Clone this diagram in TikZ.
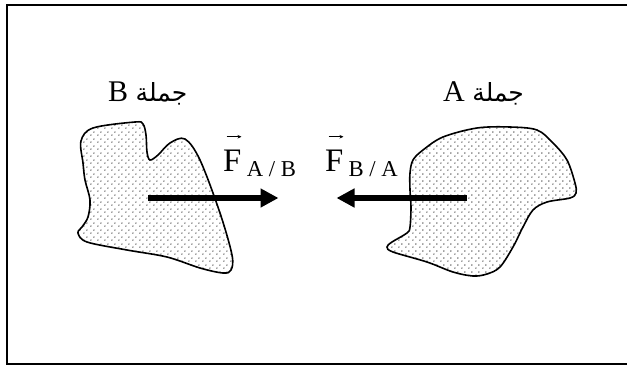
\documentclass[tikz,border=0pt]{standalone}
\usepackage{fontspec}
\setmainfont{Liberation Serif}
\newfontfamily\arabicfont[Script=Arabic]{DejaVu Sans}
\TeXXeTstate=1
\usetikzlibrary{arrows.meta,patterns}
\pgfdeclarepatternformonly{stagdots}{\pgfpoint{-1pt}{-1pt}}{\pgfpoint{6pt}{6pt}}{\pgfpoint{7pt}{7pt}}{%
  \pgfpathcircle{\pgfpoint{0pt}{0pt}}{0.85pt}%
  \pgfpathcircle{\pgfpoint{3.5pt}{3.5pt}}{0.85pt}%
  \pgfusepath{fill}}
\tikzset{
  frame/.style={line width=2pt},
  blob/.style={line width=1.6pt, pattern=stagdots, pattern color=black!75},
  force/.style={line width=6pt, -{Triangle[length=18pt,width=18pt]}},
  vecarr/.style={line width=0.7pt, -{Stealth[length=4pt,width=3.5pt]}},
  ftxt/.style={inner sep=0pt, font=\fontsize{32.8}{34}\selectfont},
  subtxt/.style={inner sep=0pt, font=\fontsize{22.7}{24}\selectfont},
  lbl/.style={inner sep=0pt, font=\fontsize{30}{32}\selectfont},
}
\begin{document}
\begin{tikzpicture}[x=1pt,y=-1pt]
\useasboundingbox (0,0) rectangle (627,365);
\fill[white] (0,0) rectangle (627,365);
% frame (open at right)
\draw[frame] (627,4.5) -- (6.5,4.5) -- (6.5,363.5) -- (627,363.5);
% body B
\draw[blob] plot[smooth cycle, tension=0.55] coordinates {
 (81,141) (93,128) (135,122) (143,124) (146,135) (147,152) (150,160) (158,155) (170,143) (185,139)
 (200,160) (220,213) (232,255) (231,270) (223,273) (200,268) (167,257) (127,250)
 (87,242) (78,233) (82,227) (88,217) (90,200) (85,180) (83,163)};
% body A
\draw[blob] plot[smooth cycle, tension=0.55] coordinates {
 (410,173) (413,160) (423,150) (443,137) (477,128) (510,127) (537,130) (553,143)
 (567,160) (575,183) (576,193) (570,198) (547,202) (533,210) (523,227) (513,247)
 (500,267) (487,274) (473,276) (453,272) (427,262) (393,252) (387,247) (392,242)
 (407,233) (410,227) (411,207) (410,190)};
% forces
\coordinate (fb0) at (148,198);
\coordinate (fb1) at (278.5,198);
\coordinate (fa0) at (467,198);
\coordinate (fa1) at (336.5,198);
\draw[force] (fb0) -- (fb1);
\draw[force] (fa0) -- (fa1);
% force labels
\node[ftxt, anchor=base west] (FAB) at (223,171.7) {F};
\node[subtxt, anchor=base west] (SAB) at (246.7,176.7) {A / B};
\draw[vecarr] ([shift={(3.5,-13.3)}]FAB.north west) -- ([shift={(18.5,-13.3)}]FAB.north west);
\node[ftxt, anchor=base west] (FBA) at (325,171.7) {F};
\node[subtxt, anchor=base west] (SBA) at (348.3,176.7) {B / A};
\draw[vecarr] ([shift={(3.5,-13.3)}]FBA.north west) -- ([shift={(18.5,-13.3)}]FBA.north west);
% system labels
\node[lbl, anchor=base west] (labB) at (108,101.7) {\beginR{\fontsize{25}{27}\arabicfont جملة} B\endR};
\node[lbl, anchor=base west] (labA) at (443,101.7) {\beginR{\fontsize{25}{27}\arabicfont جملة} A\endR};
\end{tikzpicture}
\end{document}
